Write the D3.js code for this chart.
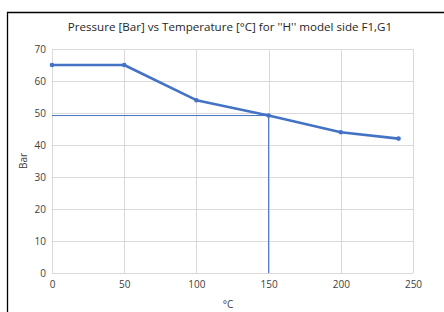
<!DOCTYPE html>
<html><head><meta charset="utf-8">
<script src="https://cdn.jsdelivr.net/npm/d3@7"></script>
<style>body{margin:0;background:#fff}svg{display:block;font-family:"Open Sans","Liberation Sans",sans-serif}</style>
</head><body><svg id="c" width="444" height="312"></svg>
<script>
const temps = [0, 50, 100, 150, 200, 240];
const pressures = [65, 65, 54, 49.2, 44, 42];
const xTicks = [0, 50, 100, 150, 200, 250];
const yTicks = [0, 10, 20, 30, 40, 50, 60, 70];
const refT = 150, refP = 49.2;
const title = "Pressure [Bar] vs Temperature [°C] for ''H'' model side F1,G1";

const svg = d3.select("#c");
const x = d3.scaleLinear().domain([0, 250]).range([52, 413]);
const y = d3.scaleLinear().domain([0, 70]).range([273, 49]);

// chart border (left & top)
svg.append("path").attr("d", "M7.5,312 V12.5 H444").attr("fill", "none").attr("stroke", "#000").attr("stroke-width", 1.3);

svg.append("text").attr("x", 230).attr("y", 31).attr("text-anchor", "middle")
  .attr("font-size", 11.6).attr("fill", "#262626").text(title);

// gridlines
svg.append("g").selectAll("line").data(yTicks).join("line")
  .attr("x1", x(0)).attr("x2", x(250)).attr("y1", d => Math.round(y(d)) + 0.5).attr("y2", d => Math.round(y(d)) + 0.5)
  .attr("stroke", "#d9d9d9");
svg.append("g").selectAll("line").data(xTicks).join("line")
  .attr("y1", y(0)).attr("y2", y(70)).attr("x1", d => Math.round(x(d)) + 0.5).attr("x2", d => Math.round(x(d)) + 0.5)
  .attr("stroke", "#d9d9d9");

// tick labels
const yAxis = svg.append("g").attr("transform", `translate(${x(0) - 6},0)`)
  .call(d3.axisLeft(y).tickValues(yTicks).tickSize(0).tickPadding(0));
const xAxis = svg.append("g").attr("transform", `translate(0,${y(0) + 6})`)
  .call(d3.axisBottom(x).tickValues(xTicks).tickSize(0).tickPadding(0));
[yAxis, xAxis].forEach(g => {
  g.select(".domain").remove();
  g.selectAll("text").attr("fill", "#404040").attr("font-size", 10)
    .attr("font-family", '"Open Sans","Liberation Sans",sans-serif');
});
xAxis.selectAll("text").attr("dy", "0.9em");

// axis titles
svg.append("text").attr("transform", `translate(27,161) rotate(-90)`).attr("text-anchor", "middle")
  .attr("font-size", 10).attr("fill", "#404040").text("Bar");
svg.append("text").attr("x", 228).attr("y", 308).attr("text-anchor", "middle")
  .attr("font-size", 10).attr("fill", "#404040").text("°C");

// reference lines
svg.append("line").attr("x1", x(0)).attr("x2", x(refT)).attr("y1", y(refP)).attr("y2", y(refP))
  .attr("stroke", "#4472C4").attr("stroke-width", 1);
svg.append("line").attr("x1", x(refT)).attr("x2", x(refT)).attr("y1", y(refP)).attr("y2", y(0))
  .attr("stroke", "#4472C4").attr("stroke-width", 1);

// data line
const data = temps.map((t, i) => [t, pressures[i]]);
svg.append("path").datum(data).attr("fill", "none").attr("stroke", "#4472C4").attr("stroke-width", 2.6)
  .attr("stroke-linejoin", "round")
  .attr("d", d3.line().x(d => x(d[0])).y(d => y(d[1])));
svg.append("g").selectAll("circle").data(data).join("circle")
  .attr("cx", d => x(d[0])).attr("cy", d => y(d[1])).attr("r", 2.3).attr("fill", "#4472C4");
</script></body></html>
